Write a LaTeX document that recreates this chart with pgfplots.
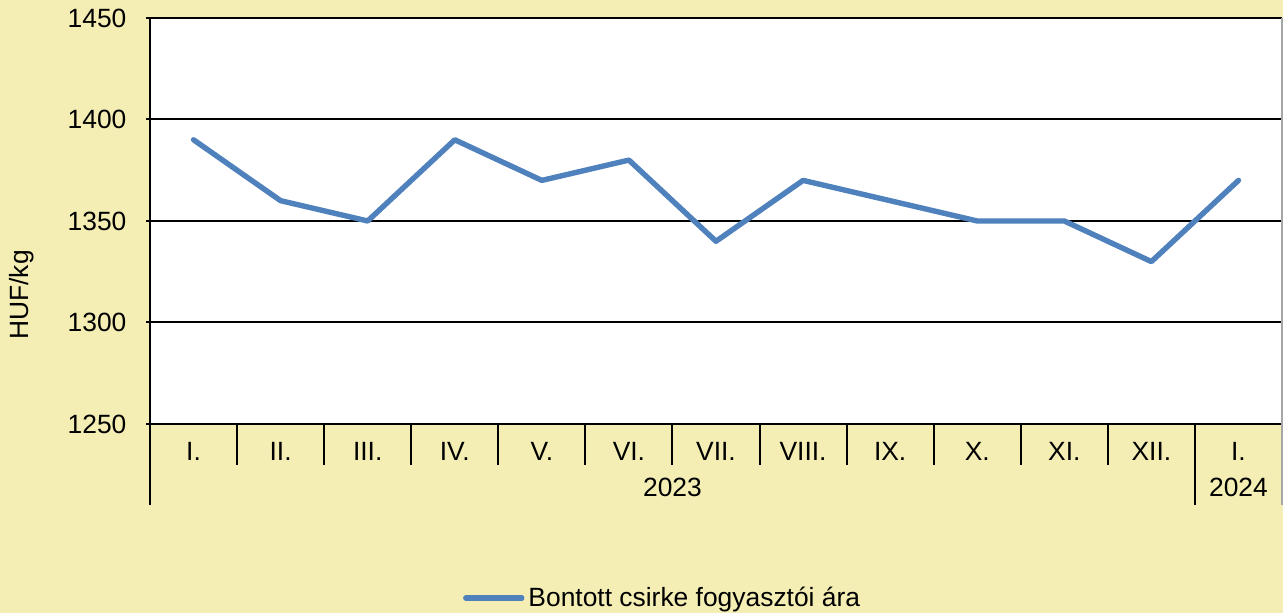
\documentclass[border=0pt]{standalone}
\usepackage{fontspec}
\setmainfont{Liberation Sans}
\usepackage{pgfplots}
\pgfplotsset{compat=1.18}
\definecolor{bgy}{HTML}{F4EEB4}
\definecolor{lineblue}{HTML}{4F81BD}
\begin{document}
\begin{tikzpicture}
\fill[bgy] (-75pt,-94.5pt) rectangle (566.5pt,212pt);
\useasboundingbox (-75pt,-94.5pt) rectangle (566.5pt,212pt);
\begin{axis}[
  at={(0,0)}, anchor=south west,
  scale only axis, width=566pt, height=203pt,
  axis background/.style={fill=white},
  xmin=-0.5, xmax=12.5, ymin=1250, ymax=1450,
  ytick={1250,1300,1350,1400,1450},
  xtick={0,...,12},
  xticklabels={I.,II.,III.,IV.,V.,VI.,VII.,VIII.,IX.,X.,XI.,XII.,I.},
  x tick style={draw=none},
  major tick length=3.5pt,
  y tick style={line width=1pt, black},
  tick align=outside,
  ymajorgrids, grid style={line width=1pt, black},
  axis lines=left, axis line style={-, line width=1pt, black},
  font=\fontsize{13.2}{16}\selectfont,
  /pgf/number format/assume math mode=true,
  /pgf/number format/1000 sep={},
  yticklabel style={xshift=-6.5pt},
  xticklabel style={anchor=base, yshift=-16.5pt},
  ylabel={HUF/kg},
  ylabel style={at={(axis description cs:-0.113,0.318)}, anchor=center},
  clip=false,
  legend style={at={(axis description cs:0.4537,-0.4286)}, anchor=center, draw=none, fill=none, font=\fontsize{13.2}{16}\selectfont, inner sep=0pt},
  legend image code/.code={\draw[#1] (0pt,0pt) -- (28pt,0pt);},
]
\addplot[lineblue, line width=2.7pt, line join=round, line cap=round] coordinates {
(0,1390) (1,1360) (2,1350) (3,1390) (4,1370) (5,1380) (6,1340) (7,1370) (8,1360) (9,1350) (10,1350) (11,1330) (12,1370)};
\addlegendentry{Bontott csirke fogyasztói ára}
\foreach \b in {0.5,1.5,2.5,3.5,4.5,5.5,6.5,7.5,8.5,9.5,10.5} {
  \edef\tmp{\noexpand\draw[line width=1pt, black] (axis cs:\b,1250) -- ([yshift=-20.5pt]axis cs:\b,1250);}\tmp
}
\draw[line width=1pt, black] (axis cs:-0.5,1250) -- ([yshift=-40.5pt]axis cs:-0.5,1250);
\draw[line width=1pt, black] (axis cs:11.5,1250) -- ([yshift=-40.5pt]axis cs:11.5,1250);
\draw[line width=0.6pt, gray!70] (axis cs:12.5,1450) -- (axis cs:12.5,1250) -- ([yshift=-40.5pt]axis cs:12.5,1250);
\node[anchor=base, inner sep=0pt] at ([yshift=-36.5pt]axis cs:5.5,1250) {2023};
\node[anchor=base, inner sep=0pt] at ([yshift=-36.5pt]axis cs:12,1250) {2024};
\end{axis}
\end{tikzpicture}
\end{document}
